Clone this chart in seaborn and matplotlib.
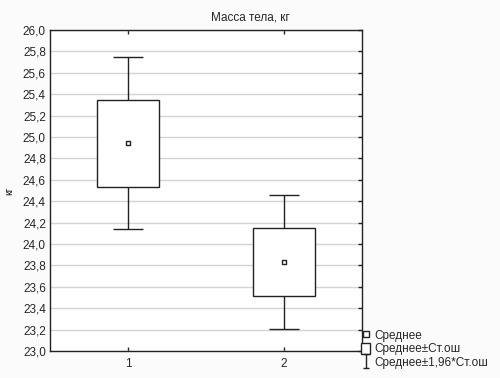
import numpy as np
import pandas as pd
import seaborn as sns
import matplotlib.pyplot as plt
from matplotlib.lines import Line2D
from matplotlib.patches import Patch
from matplotlib.path import Path

# данные
groups = ['1', '2']
means = [24.94, 23.83]
se = [0.41, 0.32]

df = pd.DataFrame({'group': groups, 'mean': means, 'se': se})
df['lo'] = df['mean'] - df['se']
df['hi'] = df['mean'] + df['se']
df['ci'] = 1.96 * df['se']

sns.set_style('white')
plt.rcParams['font.family'] = ['Liberation Sans', 'DejaVu Sans']
plt.rcParams['font.size'] = 8.5

fig = plt.figure(figsize=(5, 3.78), dpi=100)
fig.patch.set_facecolor('#fbfbfb')
ax = fig.add_axes([0.1, 0.0714, 0.624, 0.8492])
ax.set_facecolor('white')

pos = np.arange(1, len(groups) + 1)

# усы: среднее ± 1,96*Ст.ош
ax.errorbar(pos, df['mean'], yerr=df['ci'], fmt='none', ecolor='#222222',
            elinewidth=1, capsize=11, capthick=1, zorder=2)
# коробки: среднее ± Ст.ош
ax.bar(pos, df['hi'] - df['lo'], bottom=df['lo'], width=0.4,
       color='white', edgecolor='#222222', linewidth=1, zorder=3)
# среднее
sns.scatterplot(x=pos, y=df['mean'], marker='s', s=10, facecolor='white',
                edgecolor='#222222', linewidth=1, ax=ax, zorder=4)

ax.set_xlim(0.5, 2.5)
ax.set_ylim(23.0, 26.0)
yt = np.round(np.arange(23.0, 26.01, 0.2), 1)
ax.set_yticks(yt)
ax.set_yticklabels([f'{v:.1f}'.replace('.', ',') for v in yt])
ax.set_xticks(pos)
ax.set_xticklabels(groups)
ax.grid(axis='y', color='#d4d4d4', linewidth=1)
ax.set_axisbelow(True)

ax.tick_params(axis='y', left=False, right=True, direction='in', length=3,
               width=1, pad=3, labelsize=8.5)
ax.tick_params(axis='x', top=True, bottom=True, direction='in', length=3,
               width=1, pad=5, labelsize=8.5)
for s in ax.spines.values():
    s.set_color('#222222')
    s.set_linewidth(1)

ax.set_ylabel('кг', fontsize=7.5, labelpad=6)
fig.text(0.5, 0.955, 'Масса тела, кг', ha='center', va='center', fontsize=8.5)

# легенда
ibar = Path([(-0.5, 1), (0.5, 1), (0, 1), (0, -1), (-0.5, -1), (0.5, -1)],
            [Path.MOVETO, Path.LINETO, Path.MOVETO, Path.LINETO, Path.MOVETO, Path.LINETO])
handles = [
    Line2D([], [], marker='s', markersize=4, markerfacecolor='white',
           markeredgecolor='#222222', linestyle='none'),
    Patch(facecolor='white', edgecolor='#222222', linewidth=1),
    Line2D([], [], marker=ibar, markersize=10, markeredgecolor='#222222',
           markerfacecolor='none', markeredgewidth=1, linestyle='none'),
]
labels = ['Среднее', 'Среднее±Ст.ош', 'Среднее±1,96*Ст.ош']
fig.legend(handles, labels, loc='upper left', bbox_to_anchor=(0.722, 0.128),
           frameon=False, fontsize=8.5, handlelength=0.8, handleheight=1.0,
           handletextpad=0.3, labelspacing=0.1, borderpad=0, borderaxespad=0)

fig.savefig('out.png', dpi=100, facecolor=fig.get_facecolor())
